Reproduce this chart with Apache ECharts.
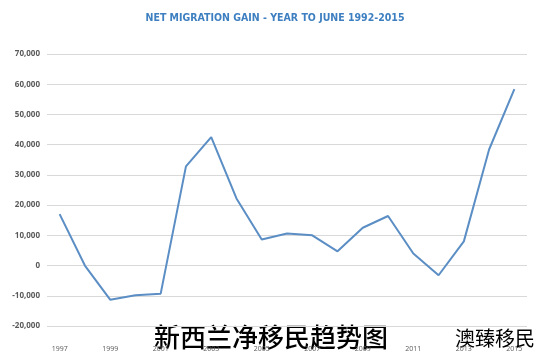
<!DOCTYPE html>
<html><head><meta charset="utf-8">
<script src="https://cdn.jsdelivr.net/npm/echarts@6/dist/echarts.min.js"></script>
<style>html,body{margin:0;padding:0;background:#fff}#c{width:550px;height:363px}</style>
</head><body><div id="c"></div>
<script>
var years = ['1997','1998','1999','2000','2001','2002','2003','2004','2005','2006','2007','2008','2009','2010','2011','2012','2013','2014','2015'];
var netGain = [17000,0,-11300,-9800,-9300,32800,42500,22200,8600,10600,10000,4700,12500,16400,4000,-3200,8000,38400,58400];
var yTicks = [-20000,70000,10000];
var chart = echarts.init(document.getElementById('c'));
chart.setOption({
  backgroundColor:'#fff',
  animation:false,
  title:{text:'NET MIGRATION GAIN - YEAR TO JUNE 1992-2015',left:'center',top:8,
    textStyle:{color:'#3d7fc0',fontFamily:'DejaVu Sans Condensed',fontWeight:'bold',fontSize:10.5}},
  grid:{left:47,right:23,top:54,bottom:37},
  xAxis:{type:'category',data:years,boundaryGap:true,
    axisLine:{show:false},axisTick:{show:false},
    axisLabel:{interval:1,color:'#595959',fontSize:7,fontFamily:'Open Sans',margin:19}},
  yAxis:{type:'value',min:yTicks[0],max:yTicks[1],interval:yTicks[2],
    axisLine:{show:false},axisTick:{show:false},
    splitLine:{lineStyle:{color:'#d9d9d9',width:1}},
    axisLabel:{color:'#595959',fontSize:8,fontFamily:'Open Sans',fontWeight:'bold',margin:7,
      formatter:function(v){return echarts.format.addCommas(v);}}},
  series:[{type:'line',data:netGain,symbol:'none',lineStyle:{color:'#5b8ec4',width:2}}],
  graphic:[
    {type:'text',left:154,top:324,style:{text:'新西兰净移民趋势图',font:'500 26px "Noto Sans CJK SC"',fill:'#000'}},
    {type:'text',left:455,top:328,style:{text:'澳臻移民',font:'20px "Noto Sans CJK SC"',fill:'#000'}}
  ]
});
</script></body></html>
